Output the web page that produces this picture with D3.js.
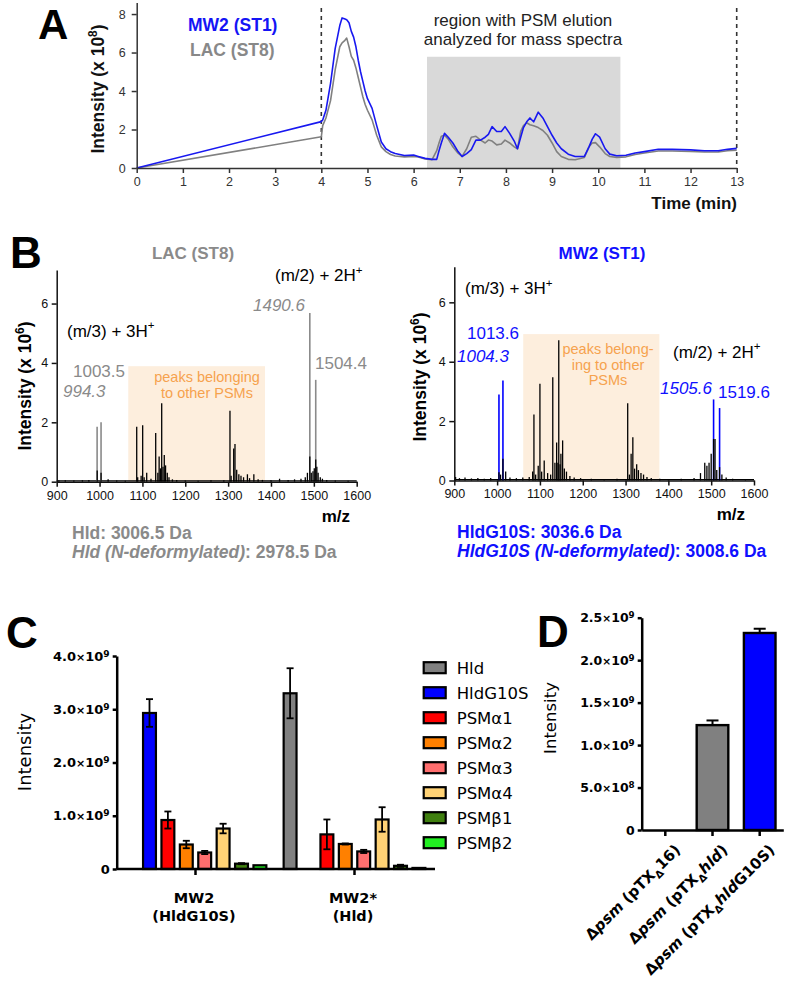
<!DOCTYPE html>
<html><head><meta charset="utf-8">
<script src="https://cdn.jsdelivr.net/npm/d3@7"></script>
<style>body{margin:0;background:#fff}svg{display:block}</style>
</head><body>
<svg id="fig" width="787" height="982"></svg>
<script>
// ---------------- DATA ----------------
// Panel A: chromatogram (time in min, intensity x 1e8)
const timeA = [0,4.0,4.03,4.1,4.2,4.3,4.4,4.45,4.5,4.55,4.6,4.65,4.7,4.75,4.8,4.85,4.9,4.95,5.0,5.1,5.2,5.3,5.4,5.5,5.6,5.8,6.0,6.1,6.25,6.4,6.5,6.55,6.6,6.67,6.75,6.85,6.95,7.05,7.15,7.25,7.35,7.45,7.55,7.62,7.7,7.8,7.9,7.98,8.08,8.18,8.25,8.32,8.38,8.45,8.52,8.6,8.7,8.8,8.9,9.0,9.1,9.2,9.35,9.5,9.7,9.8,9.87,9.94,10.03,10.15,10.25,10.4,10.6,10.8,11.0,11.3,11.6,12.0,12.3,12.6,12.8,13.0];
const mw2A = [0,2.41,2.5,3.0,4.4,6.2,7.4,7.8,7.75,7.7,7.55,7.1,6.8,6.3,5.6,5.0,4.5,4.0,3.6,3.1,2.2,1.35,1.0,0.85,0.75,0.65,0.67,0.6,0.5,0.45,0.45,0.9,1.3,1.8,1.6,1.3,0.9,0.6,0.75,0.95,1.45,1.45,1.6,1.75,2.15,1.9,1.9,2.15,1.8,1.4,1.0,1.6,2.1,2.4,2.6,2.4,2.9,2.6,2.15,1.7,1.3,1.0,0.72,0.6,0.6,1.1,1.5,1.78,1.6,1.0,0.72,0.64,0.66,0.78,0.85,0.97,0.97,0.94,0.9,0.9,0.97,1.02];
const lacA = [0,1.62,2.2,2.6,3.5,5.1,6.3,6.5,6.6,6.75,6.3,5.8,5.6,5.2,4.7,4.2,3.7,3.3,3.0,2.5,1.7,1.1,0.85,0.7,0.62,0.58,0.6,0.57,0.47,0.43,0.9,1.3,1.65,1.7,1.5,1.1,0.8,0.6,1.0,1.6,1.65,1.45,1.3,1.45,1.4,1.2,1.25,1.45,1.3,1.1,1.0,1.9,2.2,2.35,2.25,2.2,2.1,1.95,1.7,1.3,0.85,0.6,0.45,0.43,0.55,1.1,1.3,1.32,1.1,0.75,0.6,0.55,0.58,0.7,0.78,0.88,0.88,0.86,0.83,0.84,0.9,0.93];
const ticksAx = [0,1,2,3,4,5,6,7,8,9,10,11,12,13];
const ticksAy = [0,2,4,6,8];
const regionA = [6.29, 10.48, 5.78];   // start, end (min), top (x1e8)
const dashedA = [4, 13];

// Panel B: mass spectra (m/z, intensity x 1e6)
const lacHitMz  = [994.3, 1003.5, 1490.6, 1504.4];
const lacHitInt = [1.85, 2.0, 5.68, 3.43];
const lacOtherMz  = [905,920,940,960,975,994.5,1003.5,1020,1040,1060,1086.7,1089,1097,1100.6,1104,1110,1120,1131,1136,1139,1142,1145,1148,1151,1154,1158,1162,1170,1180,1200,1230,1260,1290,1304.3,1307,1313,1316,1320,1325,1330,1336,1345,1350,1360,1370,1380,1400,1420,1440,1455,1470,1480,1485,1490.6,1494,1498,1501,1504.4,1507,1510,1515,1520,1530,1550,1580];
const lacOtherInt = [0.04,0.05,0.04,0.05,0.06,0.38,0.3,0.08,0.04,0.03,1.85,0.15,0.2,1.9,0.15,0.3,0.1,1.64,0.3,0.85,0.45,2.64,0.5,0.9,0.55,0.3,0.15,0.08,0.06,0.04,0.03,0.05,0.05,2.39,0.2,1.12,1.27,0.4,0.25,0.2,0.15,0.25,0.12,0.25,0.08,0.06,0.05,0.1,0.06,0.08,0.1,0.15,0.3,0.85,0.3,0.35,0.45,0.75,0.5,0.3,0.15,0.1,0.06,0.04,0.03];
const mw2HitMz  = [1004.3, 1013.6, 1505.6, 1519.6];
const mw2HitInt = [2.9, 3.37, 2.73, 2.44];
const mw2OtherMz  = [903,912,925,940,955,970,985,1004.3,1008,1013.6,1020,1030,1045,1060,1075,1083,1086,1090,1096,1100,1104,1110,1118,1125,1130,1135,1139,1142,1144,1147,1149,1153,1157,1162,1170,1180,1195,1220,1250,1280,1305,1309,1313,1317,1321,1326,1330,1336,1342,1350,1360,1380,1400,1430,1460,1475,1485,1490,1495,1500,1505.6,1509,1513,1519.6,1525,1535,1550,1580];
const mw2OtherInt = [0.12,0.08,0.1,0.07,0.08,0.06,0.08,0.28,0.2,0.73,0.3,0.1,0.08,0.1,0.12,0.3,2.22,0.2,0.5,3.26,0.3,0.67,0.25,0.2,3.48,0.6,1.28,0.6,4.72,0.55,0.9,1.35,0.4,0.3,0.15,0.1,0.08,0.06,0.05,0.06,2.6,0.2,0.9,1.46,0.4,0.55,0.35,0.25,0.2,0.12,0.08,0.06,0.05,0.06,0.08,0.25,0.6,0.5,0.6,0.9,1.4,1.4,0.35,0.45,0.2,0.1,0.06,0.04];
const ticksBx = [900,1000,1100,1200,1300,1400,1500,1600];
const ticksBy = [0,2,4,6];
const otherBoxLac = [1067, 1386, 3.89];
const otherBoxMw2 = [1061, 1379, 4.93];

// Panel C: intensities (x 1e9)
const groupsC = ["MW2", "MW2*"];
const groupSubC = ["(HldG10S)", "(Hld)"];
const seriesC = ["Hld","HldG10S","PSMα1","PSMα2","PSMα3","PSMα4","PSMβ1","PSMβ2"];
const colorsC = ["#808080","#0000ff","#ff0000","#ff8000","#ff6e6e","#ffd275","#3f7f0f","#22ee22"];
const meanMW2  = [0, 2.93, 0.92, 0.46, 0.31, 0.76, 0.10, 0.07];
const errMW2   = [0, 0.26, 0.16, 0.07, 0.03, 0.09, 0.01, 0.0];
const meanMW2s = [3.30, 0, 0.65, 0.47, 0.33, 0.93, 0.06, 0.02];
const errMW2s  = [0.47, 0, 0.28, 0.01, 0.03, 0.23, 0.02, 0.0];
const ticksCy = [0,1,2,3,4];
const tickLabelsC = ["0","1.0×10^9","2.0×10^9","3.0×10^9","4.0×10^9"];

// Panel D: intensities (x 1e9)
const catsD = ["Δpsm (pTXΔ16)", "Δpsm (pTXΔhld)", "Δpsm (pTXΔhldG10S)"];
const meanD = [0, 1.235, 2.32];
const errD  = [0, 0.055, 0.05];
const colorsD = ["#808080","#808080","#0000ff"];
const ticksDy = [0,0.5,1.0,1.5,2.0,2.5];
const tickLabelsD = ["0","5.0×10^8","1.0×10^9","1.5×10^9","2.0×10^9","2.5×10^9"];

// ---------------- HELPERS ----------------
const AR = '"Liberation Sans", Arial, Helvetica, sans-serif';
const DJ = '"DejaVu Sans", Verdana, sans-serif';
const svg = d3.select("#fig");
svg.append("rect").attr("width",787).attr("height",982).attr("fill","#fff");

function addText(g, x, y, parts, o = {}) {
  const size = o.size || 12;
  const t = g.append("text").attr("x", x).attr("y", y)
    .style("font-family", o.font || AR).style("font-size", size + "px")
    .style("font-weight", o.weight || "normal")
    .style("font-style", o.style || "normal")
    .attr("fill", o.fill || "#000")
    .attr("text-anchor", o.anchor || "start");
  if (o.rotate) t.attr("transform", `rotate(${o.rotate},${x},${y})`);
  if (typeof parts === "string") parts = [{t: parts}];
  let shift = 0;
  parts.forEach(p => {
    const s = t.append("tspan").text(p.t);
    const target = p.sup ? -0.42 * size : p.sub ? 0.28 * size : 0;
    if (target !== shift) s.attr("dy", (target - shift));
    if (p.sup || p.sub) s.style("font-size", (size * 0.68) + "px");
    if (p.italic) s.style("font-style", "italic");
    if (p.bold) s.style("font-weight", "bold");
    if (p.fill) s.attr("fill", p.fill);
    shift = target;
  });
  return t;
}
function styleAxis(g, color, w, font, size, weight) {
  g.attr("font-family", null).attr("font-size", null);
  g.select(".domain").attr("stroke", color).attr("stroke-width", w);
  g.selectAll(".tick line").attr("stroke", color).attr("stroke-width", w);
  g.selectAll(".tick text").attr("fill", color).style("font-family", font)
    .style("font-size", size + "px").style("font-weight", weight);
}
function sciLabel(sel, labels, values) {
  sel.selectAll(".tick text").each(function(d) {
    const lab = labels[values.indexOf(d)];
    const t = d3.select(this); t.text(null);
    const [m, e] = lab.split("^");
    if (!e) { t.text(m); return; }
    const [a, b] = m.split("×");
    t.append("tspan").text(a);
    t.append("tspan").text("×").style("font-size", "85%");
    t.append("tspan").text(b);
    t.append("tspan").text(e).attr("dy", "-0.45em").style("font-size", "70%");
  });
}

// ---------------- PANEL A ----------------
const gA = svg.append("g");
const xA = d3.scaleLinear().domain([0, 13]).range([136.7, 736.7]);
const yA = d3.scaleLinear().domain([0, 8.6]).range([168, 2.5]);
gA.append("rect").attr("x", xA(regionA[0])).attr("y", yA(regionA[2]))
  .attr("width", xA(regionA[1]) - xA(regionA[0])).attr("height", yA(0) - yA(regionA[2]))
  .attr("fill", "#d9d9d9");
dashedA.forEach(t => gA.append("line").attr("x1", xA(t)).attr("x2", xA(t))
  .attr("y1", 8).attr("y2", yA(0)).attr("stroke", "#333").attr("stroke-width", 1.6)
  .attr("stroke-dasharray", "4,4"));
const lineA = d3.line().x((d, i) => xA(timeA[i])).y(d => yA(d));
gA.append("path").attr("d", lineA(lacA)).attr("fill", "none").attr("stroke", "#808080").attr("stroke-width", 1.6).attr("stroke-linejoin","round");
gA.append("path").attr("d", lineA(mw2A)).attr("fill", "none").attr("stroke", "#1818f0").attr("stroke-width", 1.6).attr("stroke-linejoin","round");
const axAx = gA.append("g").attr("transform", `translate(0,${yA(0)})`)
  .call(d3.axisBottom(xA).tickValues(ticksAx).tickSize(5).tickSizeOuter(0).tickPadding(4));
styleAxis(axAx, "#333", 1.5, AR, 12.5, "normal");
const axAy = gA.append("g").attr("transform", `translate(${xA(0)},0)`)
  .call(d3.axisLeft(yA).tickValues(ticksAy).tickSize(5).tickSizeOuter(0).tickPadding(6));
styleAxis(axAy, "#333", 1.5, AR, 12.5, "normal");
addText(gA, 38, 39, "A", {size: 42, weight: "bold"});
addText(gA, 188, 31, "MW2 (ST1)", {size: 17.5, weight: "bold", fill: "#1414f5"});
addText(gA, 190, 55.5, "LAC (ST8)", {size: 17.5, weight: "bold", fill: "#888"});
addText(gA, 523, 26, "region with PSM elution", {size: 17, anchor: "middle", fill: "#222"});
addText(gA, 523, 45, "analyzed for mass spectra", {size: 17, anchor: "middle", fill: "#222"});
addText(gA, 104, 89, [{t: "Intensity (x 10"}, {t: "8", sup: true}, {t: ")"}], {size: 17.5, weight: "bold", anchor: "middle", rotate: -90, fill: "#111"});
addText(gA, 737, 209, "Time (min)", {size: 17, weight: "bold", anchor: "end", fill: "#111"});

// ---------------- PANEL B ----------------
function spectrum(cfg) {
  const g = svg.append("g");
  const x = d3.scaleLinear().domain([900, 1600]).range(cfg.xr);
  const y = d3.scaleLinear().domain([0, cfg.ymax]).range(cfg.yr);
  g.append("rect").attr("x", x(cfg.box[0])).attr("y", y(cfg.box[2]))
    .attr("width", x(cfg.box[1]) - x(cfg.box[0])).attr("height", y(0) - y(cfg.box[2]))
    .attr("fill", "#fdeedd");
  g.append("line").attr("x1", x(900)).attr("x2", x(1600)).attr("y1", y(0.03)).attr("y2", y(0.03))
    .attr("stroke", "#000").attr("stroke-width", 1.2);
  cfg.hitMz.forEach((m, i) => g.append("line").attr("x1", x(m)).attr("x2", x(m))
    .attr("y1", y(0)).attr("y2", y(cfg.hitInt[i])).attr("stroke", cfg.hitColor).attr("stroke-width", 1.6));
  cfg.otherMz.forEach((m, i) => g.append("line").attr("x1", x(m)).attr("x2", x(m))
    .attr("y1", y(0)).attr("y2", y(cfg.otherInt[i])).attr("stroke", "#000").attr("stroke-width", 1.3));
  const ax = g.append("g").attr("transform", `translate(0,${y(0)})`)
    .call(d3.axisBottom(x).tickValues(ticksBx).tickFormat(d3.format("d")).tickSize(5).tickSizeOuter(0).tickPadding(4));
  styleAxis(ax, "#111", 1.5, AR, 12.5, "normal");
  const ay = g.append("g").attr("transform", `translate(${x(900)},0)`)
    .call(d3.axisLeft(y).tickValues(ticksBy).tickSize(5).tickSizeOuter(0).tickPadding(3.5));
  styleAxis(ay, "#111", 1.5, AR, 12.5, "normal");
  return g;
}
const gBL = spectrum({xr: [56.7, 356.7], yr: [481.7, 270], ymax: 7.13, box: otherBoxLac,
  hitMz: lacHitMz, hitInt: lacHitInt, hitColor: "#8a8a8a", otherMz: lacOtherMz, otherInt: lacOtherInt});
const gBR = spectrum({xr: [454.3, 754], yr: [480.5, 266.7], ymax: 7.2, box: otherBoxMw2,
  hitMz: mw2HitMz, hitInt: mw2HitInt, hitColor: "#0000ff", otherMz: mw2OtherMz, otherInt: mw2OtherInt});
const GRAY = "#8a8a8a", BLUE = "#1010ff", ORANGE = "#f6a24e";
addText(gBL, 10, 268, "B", {size: 44, weight: "bold"});
addText(gBL, 193, 259, "LAC (ST8)", {size: 17, weight: "bold", anchor: "middle", fill: GRAY});
addText(gBL, 275, 281, [{t: "(m/2) + 2H"}, {t: "+", sup: true}], {size: 17});
addText(gBL, 67, 336.5, [{t: "(m/3) + 3H"}, {t: "+", sup: true}], {size: 17});
addText(gBL, 253, 311, "1490.6", {size: 17, style: "italic", fill: GRAY});
addText(gBL, 315, 369, "1504.4", {size: 17, fill: GRAY});
addText(gBL, 73, 376.5, "1003.5", {size: 17, fill: GRAY});
addText(gBL, 63, 396.5, "994.3", {size: 17, style: "italic", fill: GRAY});
addText(gBL, 207, 382, "peaks belonging", {size: 14.5, anchor: "middle", fill: ORANGE});
addText(gBL, 207, 398, "to other PSMs", {size: 14.5, anchor: "middle", fill: ORANGE});
addText(gBL, 31, 386, [{t: "Intensity (x 10"}, {t: "6", sup: true}, {t: ")"}], {size: 17.5, weight: "bold", anchor: "middle", rotate: -90});
addText(gBL, 350, 522, "m/z", {size: 17, weight: "bold", anchor: "end"});
addText(gBL, 72, 538.5, "Hld: 3006.5 Da", {size: 17.5, weight: "bold", fill: GRAY});
addText(gBL, 72, 557.5, [{t: "Hld (N-deformylated)", italic: true}, {t: ": 2978.5 Da"}], {size: 17.5, weight: "bold", fill: GRAY});

addText(gBR, 602, 259, "MW2 (ST1)", {size: 17, weight: "bold", anchor: "middle", fill: BLUE});
addText(gBR, 465, 294, [{t: "(m/3) + 3H"}, {t: "+", sup: true}], {size: 17});
addText(gBR, 467, 339, "1013.6", {size: 17, fill: BLUE});
addText(gBR, 457, 362, "1004.3", {size: 17, style: "italic", fill: BLUE});
addText(gBR, 608, 354, "peaks belong-", {size: 14.5, anchor: "middle", fill: ORANGE});
addText(gBR, 608, 369.5, "ing to other", {size: 14.5, anchor: "middle", fill: ORANGE});
addText(gBR, 608, 385, "PSMs", {size: 14.5, anchor: "middle", fill: ORANGE});
addText(gBR, 673, 357.5, [{t: "(m/2) + 2H"}, {t: "+", sup: true}], {size: 17});
addText(gBR, 660, 394, "1505.6", {size: 17, style: "italic", fill: BLUE});
addText(gBR, 718, 398, "1519.6", {size: 17, fill: BLUE});
addText(gBR, 426, 377, [{t: "Intensity (x 10"}, {t: "6", sup: true}, {t: ")"}], {size: 17.5, weight: "bold", anchor: "middle", rotate: -90});
addText(gBR, 745, 520, "m/z", {size: 17, weight: "bold", anchor: "end"});
addText(gBR, 457, 538, "HldG10S: 3036.6 Da", {size: 17.5, weight: "bold", fill: BLUE});
addText(gBR, 457, 557, [{t: "HldG10S (N-deformylated)", italic: true}, {t: ": 3008.6 Da"}], {size: 17.5, weight: "bold", fill: BLUE});

// ---------------- PANEL C ----------------
const gC = svg.append("g");
const x0C = d3.scaleBand().domain(groupsC).range([116, 434]);
const x1C = d3.scaleBand().domain(seriesC).range([0, x0C.bandwidth()]).paddingInner(0.3).paddingOuter(0.47);
const yC = d3.scaleLinear().domain([0, 4]).range([869, 656]);
const dataC = [meanMW2, meanMW2s], errC = [errMW2, errMW2s];
groupsC.forEach((grp, gi) => {
  seriesC.forEach((s, si) => {
    const v = dataC[gi][si], e = errC[gi][si];
    if (v <= 0) return;
    const bx = x0C(grp) + x1C(s), bw = x1C.bandwidth();
    gC.append("rect").attr("x", bx).attr("y", yC(v)).attr("width", bw).attr("height", yC(0) - yC(v))
      .attr("fill", colorsC[si]).attr("stroke", "#000").attr("stroke-width", 2.2);
    if (e > 0) {
      const cx = bx + bw / 2;
      gC.append("line").attr("x1", cx).attr("x2", cx).attr("y1", yC(v - e)).attr("y2", yC(v + e)).attr("stroke", "#000").attr("stroke-width", 1.8);
      [v - e, v + e].forEach(w => gC.append("line").attr("x1", cx - 3.5).attr("x2", cx + 3.5).attr("y1", yC(w)).attr("y2", yC(w)).attr("stroke", "#000").attr("stroke-width", 1.8));
    }
  });
});
const axCx = gC.append("g").attr("transform", `translate(0,${yC(0)})`)
  .call(d3.axisBottom(x0C).tickSize(6).tickSizeOuter(0).tickFormat(""));
styleAxis(axCx, "#000", 2.5, DJ, 13, "bold");
axCx.select(".domain").attr("d", `M116.7,0H435`);
const axCy = gC.append("g").attr("transform", `translate(116.7,0)`)
  .call(d3.axisLeft(yC).tickValues(ticksCy).tickSize(4).tickSizeOuter(0).tickPadding(3));
styleAxis(axCy, "#000", 2.5, DJ, 13, "bold");
sciLabel(axCy, tickLabelsC, ticksCy);
groupsC.forEach((grp, gi) => {
  const cx = x0C(grp) + x0C.bandwidth() / 2 - 1.5;
  addText(gC, cx, 903, grp, {font: DJ, size: 14.5, weight: "bold", anchor: "middle"});
  addText(gC, cx, 921, groupSubC[gi], {font: DJ, size: 14.5, weight: "bold", anchor: "middle"});
});
seriesC.forEach((s, i) => {
  const yy = 667.7 + i * 25;
  gC.append("rect").attr("x", 423.7).attr("y", yy - 5.5).attr("width", 22).attr("height", 11)
    .attr("fill", colorsC[i]).attr("stroke", "#000").attr("stroke-width", 2.2);
  addText(gC, 456.7, yy + 6, s, {font: DJ, size: 16.5});
});
addText(gC, 31, 752, "Intensity", {font: DJ, size: 18, anchor: "middle", rotate: -90});
addText(gC, 6, 648, "C", {size: 44, weight: "bold"});

// ---------------- PANEL D ----------------
const gD = svg.append("g");
const xD = d3.scaleBand().domain(catsD).range([641.7, 783.3]).paddingInner(0.33).paddingOuter(0.165);
const yD = d3.scaleLinear().domain([0, 2.5]).range([830, 617.7]);
catsD.forEach((c, i) => {
  const v = meanD[i], e = errD[i];
  if (v <= 0) return;
  const bx = xD(c), bw = xD.bandwidth();
  gD.append("rect").attr("x", bx).attr("y", yD(v)).attr("width", bw).attr("height", yD(0) - yD(v))
    .attr("fill", colorsD[i]).attr("stroke", "#000").attr("stroke-width", 2.4);
  const cx = bx + bw / 2;
  gD.append("line").attr("x1", cx).attr("x2", cx).attr("y1", yD(v)).attr("y2", yD(v + e)).attr("stroke", "#000").attr("stroke-width", 2);
  gD.append("line").attr("x1", cx - 6).attr("x2", cx + 6).attr("y1", yD(v + e)).attr("y2", yD(v + e)).attr("stroke", "#000").attr("stroke-width", 2);
});
const axDx = gD.append("g").attr("transform", `translate(0,${yD(0)})`)
  .call(d3.axisBottom(xD).tickSize(6).tickSizeOuter(0).tickFormat(""));
styleAxis(axDx, "#000", 2.5, DJ, 12.5, "bold");
const axDy = gD.append("g").attr("transform", `translate(641.7,0)`)
  .call(d3.axisLeft(yD).tickValues(ticksDy).tickSize(4).tickSizeOuter(0).tickPadding(3));
styleAxis(axDy, "#000", 2.5, DJ, 12.5, "bold");
sciLabel(axDy, tickLabelsD, ticksDy);
function dLabelParts(s) {
  const m = s.match(/^Δpsm \(pTXΔ(.*)\)$/);
  const parts = [{t: "Δ"}, {t: "psm", italic: true}, {t: " (pTX"}, {t: "Δ", sub: true}];
  let rest = m ? m[1] : "";
  if (rest.startsWith("hld")) { parts.push({t: "hld", italic: true}); rest = rest.slice(3); }
  if (rest) parts.push({t: rest});
  parts.push({t: ")"});
  return parts;
}
catsD.forEach(c => {
  const cx = xD(c) + xD.bandwidth() / 2;
  addText(gD, cx + 16, 851, dLabelParts(c), {font: DJ, size: 15, weight: "bold", anchor: "end", rotate: -45});
});
addText(gD, 556, 718, "Intensity", {font: DJ, size: 16.5, anchor: "middle", rotate: -90});
addText(gD, 537, 647, "D", {size: 44, weight: "bold"});
</script>
</body></html>
